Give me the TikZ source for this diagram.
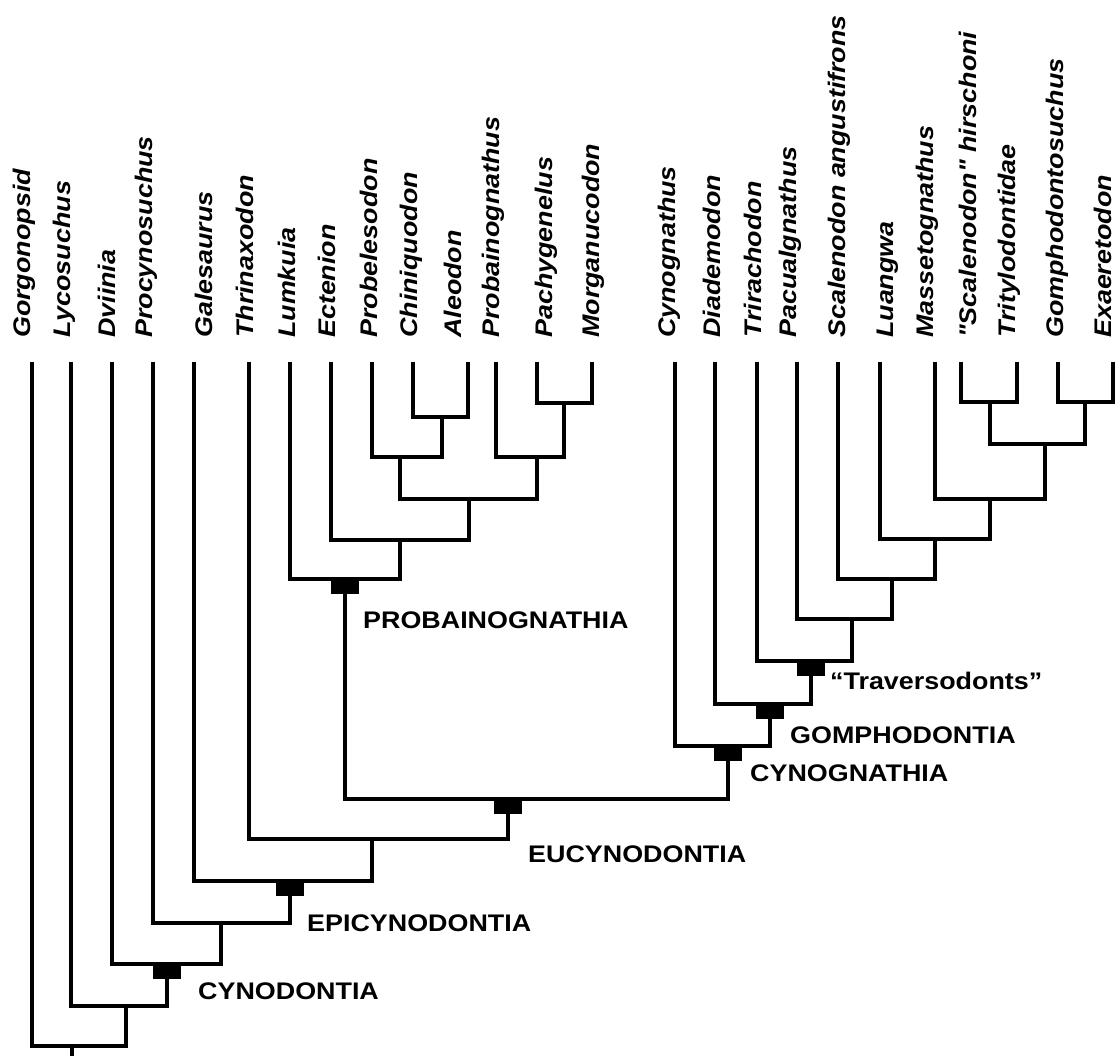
\documentclass[tikz,border=0pt]{standalone}
\usepackage{fontspec}
\setmainfont{Liberation Sans}
\newfontfamily\stretchfont[FakeStretch=1.12]{Liberation Sans}
\begin{document}
\begin{tikzpicture}[x=1pt,y=-1pt,
  branch/.style={draw=black, line width=3.8pt},
  leaf/.style={font=\stretchfont\fontsize{24}{28}\selectfont\bfseries\itshape, rotate=90, anchor=base west, inner sep=0pt},
  clade/.style={font=\stretchfont\fontsize{24}{28}\selectfont\bfseries, anchor=base west, inner sep=0pt},
  marker/.style={fill=black}]
\useasboundingbox (0,0) rectangle (1118,1056);
% leaf tips
\coordinate (gor) at (32,362);
\coordinate (lyc) at (71,362);
\coordinate (dvi) at (112,362);
\coordinate (pro) at (153,362);
\coordinate (gal) at (194,362);
\coordinate (thr) at (249,362);
\coordinate (lum) at (290,362);
\coordinate (ect) at (331,362);
\coordinate (pbl) at (372,362);
\coordinate (chi) at (413,362);
\coordinate (ale) at (468,362);
\coordinate (pba) at (496,362);
\coordinate (pac) at (537,362);
\coordinate (mor) at (592,362);
\coordinate (cyn) at (675,362);
\coordinate (dia) at (715,362);
\coordinate (tri) at (757,362);
\coordinate (pcu) at (797,362);
\coordinate (sca) at (838,362);
\coordinate (lua) at (880,362);
\coordinate (mas) at (935,362);
\coordinate (sch) at (961,362);
\coordinate (try) at (1017,362);
\coordinate (gom) at (1058,362);
\coordinate (exa) at (1113,362);
% leaf names
\node[leaf] (tgor) at (30,338) {Gorgonopsid};
\node[leaf] (tlyc) at (70,338) {Lycosuchus};
\node[leaf] (tdvi) at (115,338) {Dviinia};
\node[leaf] (tpro) at (152,338) {Procynosuchus};
\node[leaf] (tgal) at (212,338) {Galesaurus};
\node[leaf] (tthr) at (253,338) {Thrinaxodon};
\node[leaf] (tlum) at (295,338) {Lumkuia};
\node[leaf] (tect) at (335,338) {Ectenion};
\node[leaf] (tpbl) at (377,338) {Probelesodon};
\node[leaf] (tchi) at (417,338) {Chiniquodon};
\node[leaf] (tale) at (461,338) {Aleodon};
\node[leaf] (tpba) at (499,338) {Probainognathus};
\node[leaf] (tpac) at (552,338) {Pachygenelus};
\node[leaf] (tmor) at (599,338) {Morganucodon};
\node[leaf] (tcyn) at (675,338) {Cynognathus};
\node[leaf] (tdia) at (720,338) {Diademodon};
\node[leaf] (ttri) at (761,338) {Trirachodon};
\node[leaf] (tpcu) at (796,338) {Pacualgnathus};
\node[leaf] (tsca) at (845,338) {Scalenodon angustifrons};
\node[leaf] (tlua) at (893,338) {Luangwa};
\node[leaf] (tmas) at (933,338) {Massetognathus};
\node[leaf] (tsch) at (976,338) {"Scalenodon" hirschoni};
\node[leaf] (ttry) at (1015,338) {Tritylodontidae};
\node[leaf] (tgom) at (1063,338) {Gomphodontosuchus};
\node[leaf] (texa) at (1111,338) {Exaeretodon};
% internal nodes
\coordinate (n1) at (72,1046);
\coordinate (base) at (72,1058);
\coordinate (n2) at (126,1006);
\coordinate (n3) at (167,964);
\coordinate (n4) at (221,923);
\coordinate (n5) at (290,881);
\coordinate (n6) at (372,839);
\coordinate (n7) at (508,799);
\coordinate (n8) at (345,579);
\coordinate (n9) at (400,540);
\coordinate (n10) at (469,499);
\coordinate (n11) at (400,457);
\coordinate (n12) at (537,457);
\coordinate (n13) at (442,417);
\coordinate (n14) at (564,403);
\coordinate (c1) at (728,746);
\coordinate (c2) at (770,704);
\coordinate (c3) at (811,661);
\coordinate (c4) at (852,619);
\coordinate (c5) at (892,579);
\coordinate (c6) at (935,539);
\coordinate (c7) at (990,499);
\coordinate (c8) at (1045,444);
\coordinate (c9) at (990,402);
\coordinate (c10) at (1085,402);
% branches
\draw[branch] (n1) -- (base);
\draw[branch] (gor) |- (n1) -| (n2);
\draw[branch] (lyc) |- (n2) -| (n3);
\draw[branch] (dvi) |- (n3) -| (n4);
\draw[branch] (pro) |- (n4) -| (n5);
\draw[branch] (gal) |- (n5) -| (n6);
\draw[branch] (thr) |- (n6) -| (n7);
\draw[branch] (n8) |- (n7) -| (c1);
\draw[branch] (lum) |- (n8) -| (n9);
\draw[branch] (ect) |- (n9) -| (n10);
\draw[branch] (n11) |- (n10) -| (n12);
\draw[branch] (pbl) |- (n11) -| (n13);
\draw[branch] (chi) |- (n13) -| (ale);
\draw[branch] (pba) |- (n12) -| (n14);
\draw[branch] (pac) |- (n14) -| (mor);
\draw[branch] (cyn) |- (c1) -| (c2);
\draw[branch] (dia) |- (c2) -| (c3);
\draw[branch] (tri) |- (c3) -| (c4);
\draw[branch] (pcu) |- (c4) -| (c5);
\draw[branch] (sca) |- (c5) -| (c6);
\draw[branch] (lua) |- (c6) -| (c7);
\draw[branch] (mas) |- (c7) -| (c8);
\draw[branch] (c9) |- (c8) -| (c10);
\draw[branch] (sch) |- (c9) -| (try);
\draw[branch] (gom) |- (c10) -| (exa);
% clade markers
\foreach \m in {n8,n7,n5,n3,c1,c2,c3}
  \fill[marker] (\m) ++(-14,0) rectangle ++(28,15);
% clade labels
\node[clade] (lprob) at (363,628) {PROBAINOGNATHIA};
\node[clade] (ltrav) at (830,689) {“Traversodonts”};
\node[clade] (lgomph) at (790,743) {GOMPHODONTIA};
\node[clade] (lcynog) at (750,781) {CYNOGNATHIA};
\node[clade] (leucy) at (528,862) {EUCYNODONTIA};
\node[clade] (lepi) at (307,931) {EPICYNODONTIA};
\node[clade] (lcyno) at (198,999) {CYNODONTIA};
\end{tikzpicture}
\end{document}
